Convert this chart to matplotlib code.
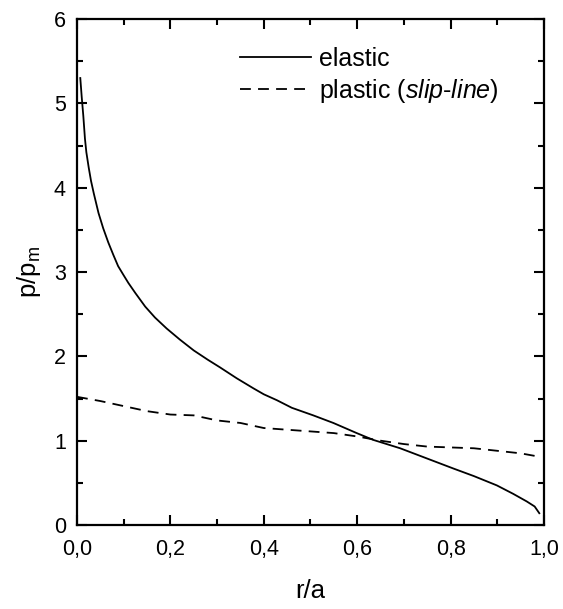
import matplotlib
matplotlib.use("Agg")
import matplotlib.pyplot as plt
from matplotlib.ticker import MultipleLocator, FuncFormatter

plt.rcParams['font.family'] = ['Liberation Sans', 'DejaVu Sans']
plt.rcParams['mathtext.fontset'] = 'custom'
plt.rcParams['mathtext.rm'] = 'Liberation Sans'
plt.rcParams['mathtext.it'] = 'Liberation Sans:italic'

# Elastic contact pressure distribution
r_elastic = [0.007, 0.010, 0.0135, 0.017, 0.020, 0.025, 0.030, 0.036, 0.046, 0.056,
             0.067, 0.078, 0.088, 0.100, 0.110, 0.125, 0.146, 0.167, 0.192, 0.220,
             0.250, 0.280, 0.306, 0.342, 0.378, 0.400, 0.428, 0.460, 0.506, 0.549,
             0.599, 0.634, 0.692, 0.749, 0.806, 0.850, 0.899, 0.934, 0.963, 0.980,
             0.990]
p_elastic = [5.30, 5.08, 4.85, 4.58, 4.42, 4.24, 4.08, 3.93, 3.70, 3.52,
             3.35, 3.20, 3.07, 2.96, 2.87, 2.75, 2.59, 2.46, 2.33, 2.20,
             2.07, 1.96, 1.87, 1.74, 1.62, 1.55, 1.48, 1.39, 1.30, 1.21,
             1.09, 1.01, 0.91, 0.79, 0.67, 0.58, 0.47, 0.37, 0.28, 0.22,
             0.14]

# Plastic (slip-line) pressure distribution
r_plastic = [0.00, 0.05, 0.10, 0.15, 0.20, 0.25, 0.30, 0.35, 0.40, 0.45, 0.50,
             0.55, 0.60, 0.65, 0.70, 0.75, 0.80, 0.85, 0.90, 0.95, 0.99]
p_plastic = [1.52, 1.47, 1.41, 1.35, 1.31, 1.30, 1.24, 1.21, 1.15, 1.13, 1.11,
             1.09, 1.05, 1.00, 0.96, 0.93, 0.92, 0.91, 0.88, 0.85, 0.81]

x_ticks = [0.0, 0.2, 0.4, 0.6, 0.8, 1.0]
y_ticks = [0, 1, 2, 3, 4, 5, 6]

fig = plt.figure(figsize=(5.63, 6.09), dpi=100)
ax = fig.add_axes([0.1368, 0.1379, 0.8294, 0.8309])

ax.plot(r_elastic, p_elastic, color='black', lw=1.3, ls='-', label='elastic')
ax.plot(r_plastic, p_plastic, color='black', lw=1.3, ls=(0, (6.0, 4.0)),
        label=r'plastic ($\mathit{slip}$-$\mathit{line}$)')

ax.set_xlim(0, 1.0)
ax.set_ylim(0, 6)
ax.set_xticks(x_ticks)
ax.set_yticks(y_ticks)
ax.xaxis.set_minor_locator(MultipleLocator(0.1))
ax.yaxis.set_minor_locator(MultipleLocator(0.5))
ax.xaxis.set_major_formatter(FuncFormatter(lambda v, _: f"{v:.1f}".replace('.', ',')))
ax.yaxis.set_major_formatter(FuncFormatter(lambda v, _: f"{int(round(v))}"))

ax.tick_params(which='both', direction='in', top=True, right=True, width=1.5)
ax.tick_params(which='major', length=7.5, labelsize=15.5)
ax.tick_params(axis='x', which='major', pad=10)
ax.tick_params(axis='y', which='major', pad=8)
ax.tick_params(which='minor', length=4)
for s in ax.spines.values():
    s.set_linewidth(1.6)

ax.set_xlabel('r/a', fontsize=18.5, labelpad=14)
ax.set_ylabel(r'p/p$_\mathregular{m}$', fontsize=18.5, labelpad=8)

ax.legend(loc='upper left', bbox_to_anchor=(0.349, 0.945), frameon=False,
          fontsize=18, handlelength=2.85, handletextpad=0.3, labelspacing=0.25,
          borderpad=0, borderaxespad=0)

fig.savefig('out.png', dpi=100)
